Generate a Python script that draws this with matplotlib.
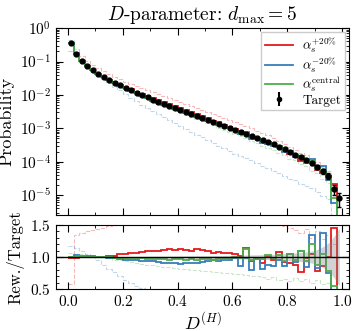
import matplotlib
matplotlib.use("Agg")
import matplotlib.pyplot as plt
import numpy as np
from matplotlib.lines import Line2D
from matplotlib.ticker import MultipleLocator

plt.rcParams["font.family"] = "cmr10"
plt.rcParams["mathtext.fontset"] = "cm"
plt.rcParams["axes.formatter.use_mathtext"] = True

# 50 bins of D^(H) in [0, 1]
edges = np.linspace(0.0, 1.0, 51)
centers = 0.5 * (edges[:-1] + edges[1:])

# target distribution (log10 of probability per bin)
target_log = [-0.44, -0.76, -0.98, -1.13, -1.25, -1.36, -1.46, -1.55, -1.63, -1.71,
              -1.79, -1.86, -1.93, -2.00, -2.07, -2.14, -2.20, -2.26, -2.32, -2.38,
              -2.44, -2.50, -2.56, -2.62, -2.68, -2.74, -2.80, -2.86, -2.92, -2.98,
              -3.04, -3.10, -3.16, -3.22, -3.28, -3.35, -3.41, -3.48, -3.55, -3.63,
              -3.71, -3.79, -3.87, -3.96, -4.05, -4.15, -4.28, -4.42, -4.83, -5.10]
target_relerr = [0.004, 0.004, 0.005, 0.005, 0.005, 0.006, 0.006, 0.007, 0.007, 0.008,
                 0.008, 0.009, 0.009, 0.010, 0.010, 0.011, 0.012, 0.012, 0.013, 0.014,
                 0.015, 0.016, 0.017, 0.018, 0.019, 0.020, 0.021, 0.022, 0.024, 0.026,
                 0.028, 0.030, 0.032, 0.034, 0.036, 0.038, 0.041, 0.044, 0.048, 0.052,
                 0.057, 0.063, 0.070, 0.080, 0.095, 0.12, 0.16, 0.22, 0.32, 0.45]

# reweighted / target
ratio_up = [0.98, 0.99, 1.00, 1.00, 1.00, 1.00, 1.00, 1.01, 1.02, 1.04,
            1.05, 1.06, 1.06, 1.08, 1.09, 1.09, 1.10, 1.11, 1.12, 1.11,
            1.12, 1.11, 1.10, 1.12, 1.11, 1.10, 1.07, 1.08, 1.06, 1.07,
            1.05, 1.02, 1.14, 0.93, 0.99, 0.90, 1.00, 0.95, 1.08, 0.92,
            0.90, 0.88, 0.76, 0.98, 1.05, 0.78, 0.86, 1.00, 1.45, 0.0]
ratio_down = [1.00, 1.03, 1.02, 1.01, 1.01, 1.00, 1.00, 0.99, 0.99, 0.97,
              0.96, 0.96, 0.95, 0.94, 0.93, 0.93, 0.92, 0.91, 0.90, 0.91,
              0.89, 0.90, 0.91, 0.90, 0.92, 0.93, 0.95, 0.93, 0.96, 0.95,
              0.98, 0.86, 0.98, 0.80, 0.97, 0.82, 0.88, 0.86, 0.95, 0.86,
              1.04, 0.92, 1.10, 0.85, 1.35, 0.83, 1.38, 0.75, 0.38, 0.0]
ratio_central = [1.00, 1.00, 1.01, 1.00, 1.00, 1.00, 1.00, 1.00, 0.99, 0.99,
                 0.99, 0.98, 0.98, 0.98, 0.97, 0.97, 0.97, 0.97, 0.96, 0.97,
                 0.97, 0.96, 0.97, 0.96, 0.97, 0.97, 0.96, 0.97, 0.97, 0.98,
                 1.00, 0.99, 1.13, 0.95, 0.98, 0.97, 1.03, 0.98, 1.03, 0.93,
                 1.05, 0.96, 1.10, 0.93, 1.20, 0.88, 1.05, 0.78, 0.54, 0.0]

# unreweighted variations / target (faint dashed)
raw_up = [0.58, 1.35, 1.38, 1.40, 1.42, 1.44, 1.46, 1.48, 1.50, 1.52,
          1.54, 1.56, 1.58, 1.60, 1.62, 1.64, 1.65, 1.66, 1.67, 1.68,
          1.69, 1.70, 1.70, 1.71, 1.71, 1.72, 1.72, 1.72, 1.71, 1.70,
          1.69, 1.68, 1.66, 1.64, 1.62, 1.60, 1.58, 1.55, 1.52, 1.48,
          1.45, 1.42, 1.38, 1.44, 1.30, 1.40, 1.28, 1.35, 1.20, 0.0]
raw_down = [1.18, 1.14, 1.10, 1.05, 1.00, 0.95, 0.88, 0.82, 0.76, 0.70,
            0.64, 0.59, 0.55, 0.51, 0.48, 0.45, 0.42, 0.39, 0.37, 0.35,
            0.33, 0.31, 0.29, 0.27, 0.26, 0.24, 0.23, 0.22, 0.21, 0.20,
            0.19, 0.19, 0.18, 0.18, 0.17, 0.17, 0.17, 0.16, 0.16, 0.16,
            0.16, 0.17, 0.16, 0.17, 0.18, 0.17, 0.18, 0.20, 0.15, 0.0]
raw_central = [1.06, 1.05, 1.04, 1.03, 1.02, 1.01, 1.00, 0.98, 0.96, 0.95,
               0.93, 0.92, 0.90, 0.89, 0.88, 0.87, 0.86, 0.85, 0.84, 0.83,
               0.82, 0.81, 0.80, 0.79, 0.78, 0.78, 0.77, 0.76, 0.75, 0.75,
               0.74, 0.73, 0.72, 0.71, 0.70, 0.68, 0.66, 0.68, 0.64, 0.66,
               0.63, 0.67, 0.62, 0.66, 0.60, 0.64, 0.58, 0.60, 0.55, 0.0]

c_up, c_down, c_cen = "#e41a1c", "#377eb8", "#4daf4a"

target = 10 ** np.array(target_log)
relerr = np.array(target_relerr)

fig = plt.figure(figsize=(3.57, 3.31), dpi=100)
ax = fig.add_axes([0.157, 0.350, 0.821, 0.565])
axr = fig.add_axes([0.157, 0.127, 0.821, 0.193], sharex=ax)

for r, c in [(raw_up, c_up), (raw_down, c_down), (raw_central, c_cen)]:
    ax.stairs(target * np.array(r), edges, baseline=None, color=c, alpha=0.3, lw=0.8, ls="--")
    axr.stairs(np.array(r), edges, baseline=None, color=c, alpha=0.3, lw=0.8, ls="--")

for r, c in [(ratio_up, c_up), (ratio_down, c_down), (ratio_central, c_cen)]:
    ax.stairs(target * np.array(r), edges, baseline=None, color=c, lw=1.3)
    axr.stairs(np.array(r), edges, baseline=None, color=c, lw=1.3)

ax.errorbar(centers, target, yerr=target * relerr, fmt="o", color="black",
            ms=3.5, lw=1.0, capsize=1.5, zorder=5)

axr.fill_between(centers, 1 - relerr, 1 + relerr, color="gray", alpha=0.35, lw=0)
axr.axhline(1.0, color="black", lw=1.0)

ax.set_yscale("log")
ax.set_ylim(2.5e-6, 1.0)
ax.set_xlim(-0.044, 1.026)
ax.set_ylabel("Probability", fontsize=13)
ax.set_title(r"$D$-parameter: $d_{\max} = 5$", fontsize=14)
ax.tick_params(labelbottom=False)

axr.set_ylim(0.5, 1.5)
axr.set_ylabel("Rew./Target", fontsize=12)
axr.set_xlabel(r"$D^{(H)}$", fontsize=13, labelpad=1)
axr.xaxis.set_major_locator(MultipleLocator(0.2))
axr.xaxis.set_minor_locator(MultipleLocator(0.1))
axr.yaxis.set_major_locator(MultipleLocator(0.5))
axr.yaxis.set_minor_locator(MultipleLocator(0.1))

for a in (ax, axr):
    a.tick_params(which="both", direction="in", top=True, right=True, labelsize=11)
    a.tick_params(which="major", length=5)
    a.tick_params(which="minor", length=2.5)

handles = [Line2D([], [], color=c_up, lw=1.3),
           Line2D([], [], color=c_down, lw=1.3),
           Line2D([], [], color=c_cen, lw=1.3),
           ax.errorbar([], [], yerr=[], fmt="o", color="black", ms=3, capsize=1.5)]
labels = [r"$\alpha_s^{+20\%}$", r"$\alpha_s^{-20\%}$", r"$\alpha_s^{\mathrm{central}}$", "Target"]
ax.legend(handles, labels, loc="upper right", fontsize=9.5, fancybox=False,
          edgecolor="#cccccc", framealpha=1.0, labelspacing=0.0,
          handlelength=2.1, handletextpad=0.7, borderpad=0.3, borderaxespad=0.3)

fig.savefig("out.png", dpi=100)
